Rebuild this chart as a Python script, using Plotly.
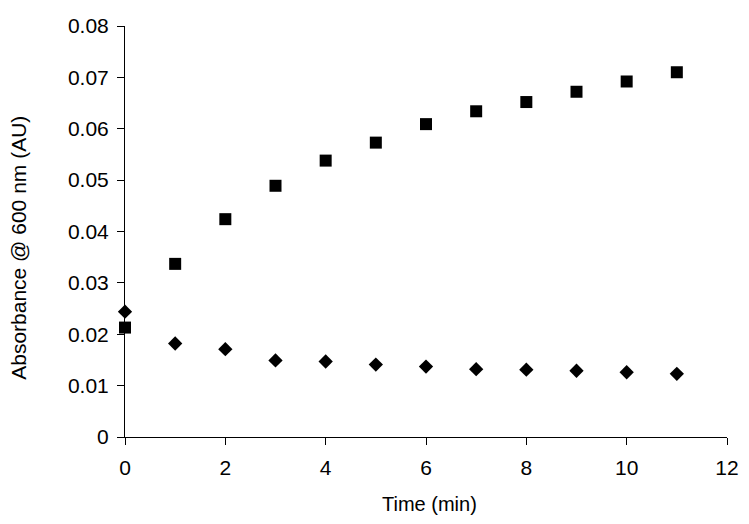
import plotly.graph_objects as go

time_min = [0, 1, 2, 3, 4, 5, 6, 7, 8, 9, 10, 11]
series_square = [0.0213, 0.0337, 0.0424, 0.0489, 0.0538, 0.0573, 0.0609, 0.0634, 0.0652, 0.0672, 0.0692, 0.0710]
series_diamond = [0.0244, 0.0182, 0.0171, 0.0149, 0.0147, 0.0141, 0.0137, 0.0132, 0.0131, 0.0129, 0.0126, 0.0123]
x_ticks = [0, 2, 4, 6, 8, 10, 12]
y_ticks = [0, 0.01, 0.02, 0.03, 0.04, 0.05, 0.06, 0.07, 0.08]
y_tick_labels = ["0", "0.01", "0.02", "0.03", "0.04", "0.05", "0.06", "0.07", "0.08"]
x_title = "Time (min)"
y_title = "Absorbance @ 600 nm (AU)"

fig = go.Figure()
fig.add_trace(go.Scatter(x=time_min, y=series_square, mode="markers",
                         marker=dict(symbol="square", size=12, color="black"),
                         showlegend=False, cliponaxis=False))
fig.add_trace(go.Scatter(x=time_min, y=series_diamond, mode="markers",
                         marker=dict(symbol="diamond", size=11, color="black"),
                         showlegend=False, cliponaxis=False))

font_family = "Liberation Sans, Arial, sans-serif"
fig.update_layout(
    width=749, height=524,
    margin=dict(l=125, r=22, t=26, b=87),
    plot_bgcolor="white", paper_bgcolor="white",
    font=dict(family=font_family, color="black"),
    xaxis=dict(range=[0, 12], tickvals=x_ticks,
               showline=True, linecolor="black", linewidth=1,
               ticks="outside", ticklen=7, tickcolor="black",
               showgrid=False, zeroline=False, automargin=False,
               tickfont=dict(size=21), ticklabelstandoff=5),
    yaxis=dict(range=[0, 0.08], tickvals=y_ticks, ticktext=y_tick_labels,
               showline=True, linecolor="black", linewidth=1,
               ticks="outside", ticklen=7, tickcolor="black",
               showgrid=False, zeroline=False, automargin=False,
               tickfont=dict(size=21), ticklabelstandoff=4),
    annotations=[
        dict(text=x_title, xref="paper", yref="paper", x=0.505, y=-0.1637,
             xanchor="center", yanchor="middle", showarrow=False,
             font=dict(size=20)),
        dict(text=y_title, xref="paper", yref="paper", x=-0.1761, y=0.4603,
             xanchor="center", yanchor="middle", showarrow=False, textangle=-90,
             font=dict(size=21)),
    ],
)

fig.write_html("out.html", config={"displayModeBar": False},
               post_script="document.body.style.margin='0';")
